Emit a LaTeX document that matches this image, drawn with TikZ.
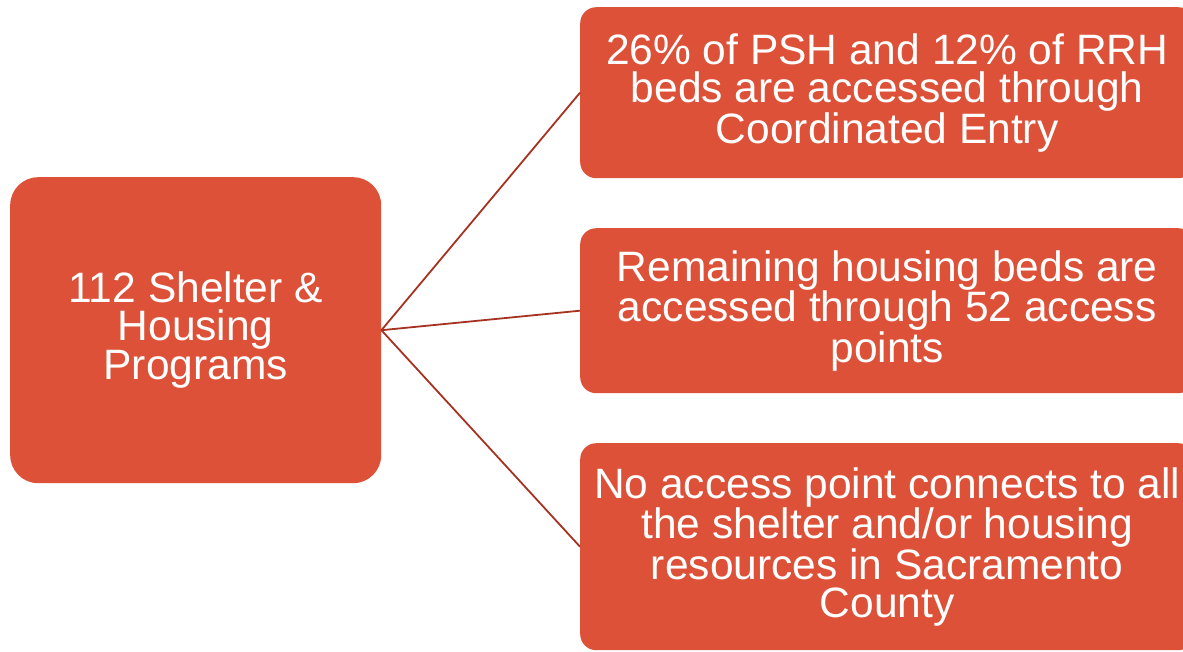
\documentclass[tikz,border=0pt]{standalone}
\usepackage{fontspec}
\setmainfont{Liberation Sans}
\definecolor{boxfill}{RGB}{221,81,57}
\definecolor{linkline}{RGB}{166,50,34}
\begin{document}
\begin{tikzpicture}[x=1pt,y=-1pt,
  box/.style={fill=boxfill, draw=none, text=white, align=center, inner sep=0pt,
    font=\fontsize{42.5}{38}\selectfont, anchor=north west},
  link/.style={draw=linkline, line width=1.8pt}]
\useasboundingbox (0,0) rectangle (1183,651);
\clip (0,0) rectangle (1183,651);
\node[box, rounded corners=28pt, minimum width=371pt, minimum height=306pt] (src) at (10,177)
  {112 Shelter \&\\Housing\\Programs};
\node[box, rounded corners=16pt, minimum width=614pt, minimum height=171pt] (b1) at (580,7)
  {26\% of PSH and 12\% of RRH\\beds are accessed through\\Coordinated Entry};
\node[box, rounded corners=16pt, minimum width=614pt, minimum height=165pt] (b2) at (580,228)
  {Remaining housing beds are\\accessed through 52 access\\points};
\node[box, rounded corners=16pt, minimum width=614pt, minimum height=207pt] (b3) at (580,443)
  {No access point connects to all\\the shelter and/or housing\\resources in Sacramento\\County};
\draw[link] (src.east) -- (b1.west);
\draw[link] (src.east) -- (b2.west);
\draw[link] (src.east) -- (b3.west);
\end{tikzpicture}
\end{document}
